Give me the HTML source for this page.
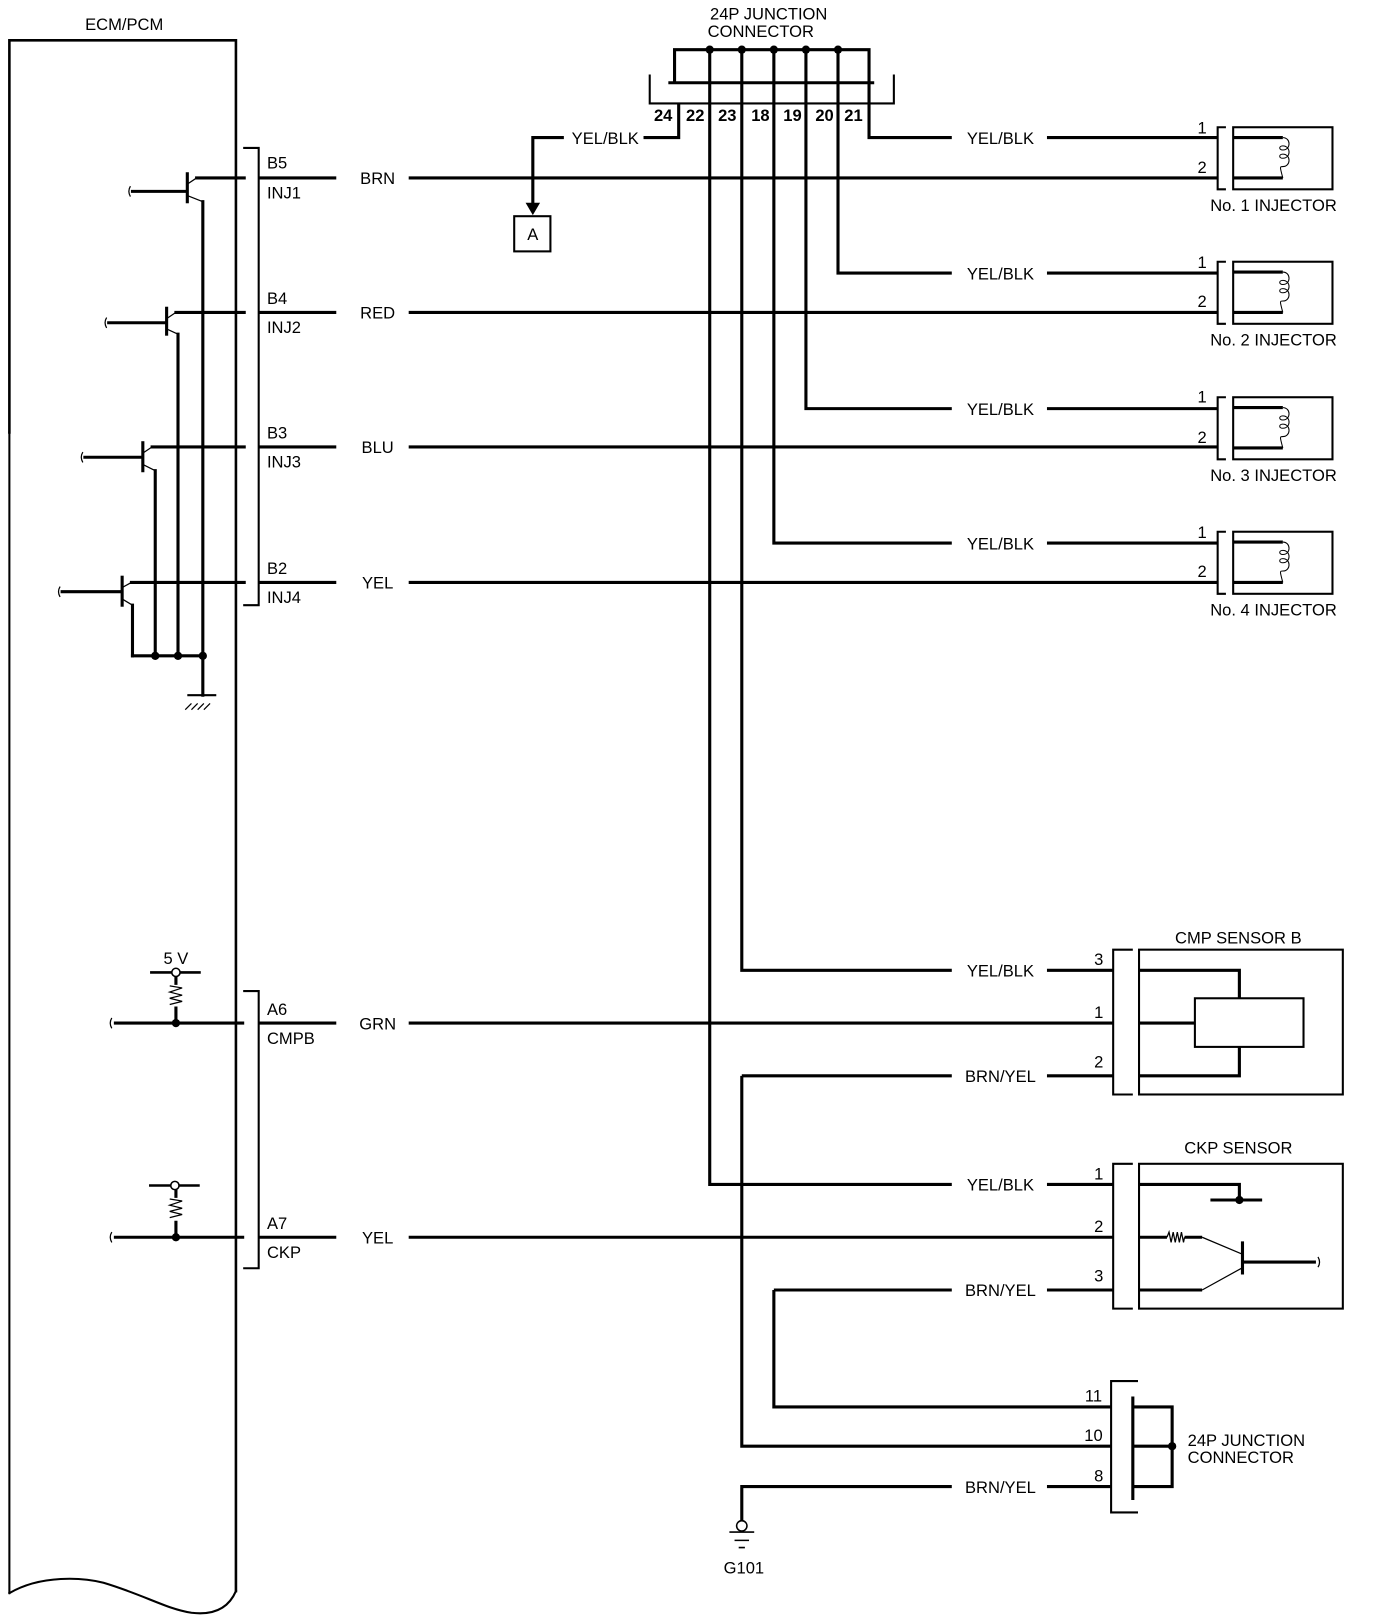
<!DOCTYPE html>
<html><head><meta charset="utf-8"><style>
html,body{margin:0;padding:0;background:#fff;}
svg{display:block;}
text{font-family:"Liberation Sans",Arial,sans-serif;font-size:16px;fill:#000;}
</style></head><body>
<svg width="1376" height="1620" viewBox="0 0 1330 1566" xmlns="http://www.w3.org/2000/svg">
<g fill="none" stroke="#000" stroke-width="3" stroke-linecap="square">
<path d="M9 418 V39 H228 V1538" stroke-width="2.5"/>
<path d="M9 418 V1540" stroke-width="2"/>
<path d="M9 1540 C40 1522 80 1525 100 1530 C140 1542 160 1555 185 1559 C210 1562 222 1552 228 1538" stroke-width="2"/>
<path d="M236 143 H250 V585 H236" stroke-width="2"/>
<path d="M236 958 H250 V1226 H236" stroke-width="2"/>
<path d="M190 172 H236"/><path d="M128 185 H180"/><path d="M181 168 V195" />
<path d="M196 195 V634"/>
<path d="M170 302 H236"/><path d="M105 312 H160"/><path d="M161 298 V323"/>
<path d="M172 323 V634"/>
<path d="M147 432 H236"/><path d="M82 442 H137"/><path d="M138 428 V455"/>
<path d="M150 455 V634"/>
<path d="M127 563 H236"/><path d="M60 572 H117"/><path d="M118 558 V585"/>
<path d="M128 585 V634"/>
<path d="M128 634 H196 V672"/>
<path d="M182 672 H208" stroke-width="2"/>
</g>
<g stroke="#000" stroke-width="1.2" fill="none">
<path d="M181 178 L190 172 M181 189 L196 195"/>
<path d="M161 308 L170 302 M161 318 L172 323"/>
<path d="M138 438 L147 432 M138 449 L150 455"/>
<path d="M118 568 L127 563 M118 579 L128 585"/>
<path d="M126 180 q-3 5 0 10 M103 307 q-3 5 0 10 M80 437 q-3 5 0 10 M58 567 q-3 5 0 10"/>
<path d="M185 680 L179 686 M191 680 L185 686 M197 680 L191 686 M203 680 L197 686"/>
</g>
<g fill="#000">
<circle cx="150" cy="634" r="4"/><circle cx="172" cy="634" r="4"/><circle cx="196" cy="634" r="4"/>
</g>
<g fill="none" stroke="#000" stroke-width="3">
<path d="M110 989 H236"/><path d="M110 1196 H236"/>
<path d="M145 940 H194" stroke-width="2.5"/><path d="M144 1146 H193" stroke-width="2.5"/>
<path d="M170 944 V952 M170 973 V989"/><path d="M170 1150 V1158 M170 1180 V1196"/>
</g>
<g fill="none" stroke="#000" stroke-width="1.2">
<path d="M164 953 L176 955 L164 959 L176 962 L164 965 L176 968 L164 971"/>
<path d="M164 1159 L176 1161 L164 1165 L176 1168 L164 1171 L176 1174 L164 1177"/>
<path d="M108 984 q-3 5 0 10 M108 1191 q-3 5 0 10"/>
</g>
<circle cx="170" cy="940" r="4" fill="#fff" stroke="#000" stroke-width="1.5"/>
<circle cx="169" cy="1146" r="4" fill="#fff" stroke="#000" stroke-width="1.5"/>
<circle cx="170" cy="989" r="4"/><circle cx="170" cy="1196" r="4"/>

<g fill="none" stroke="#000" stroke-width="3">
<path d="M250 172 H325 M395 172 H1177"/>
<path d="M250 302 H325 M395 302 H1177"/>
<path d="M250 432 H325 M395 432 H1177"/>
<path d="M250 563 H325 M395 563 H1177"/>
<path d="M250 989 H325 M395 989 H1076"/>
<path d="M250 1196 H325 M395 1196 H1076"/>
<path d="M652 80 V48 H840 V80"/>
<path d="M646 80 H845"/>
<path d="M686 48 V1145 H920 M1012 1145 H1076"/>
<path d="M717 48 V938 H920 M1012 938 H1076"/>
<path d="M748 48 V525 H920 M1012 525 H1177"/>
<path d="M779 48 V395 H920 M1012 395 H1177"/>
<path d="M810 48 V264 H920 M1012 264 H1177"/>
<path d="M840 80 V133 H920 M1012 133 H1177"/>
<path d="M656 100 V133 H622 M545 133 H515 V200"/>
<path d="M717 1040 H920 M1012 1040 H1076 M717 1040 V1398 H1074"/>
<path d="M748 1247 H920 M1012 1247 H1076 M748 1247 V1360 H1074"/>
<path d="M717 1470 V1437 H920 M1012 1437 H1074"/>
</g>
<path d="M628 72 V100 H864 V72" fill="none" stroke="#000" stroke-width="2"/>
<g fill="#000"><circle cx="686" cy="48" r="4"/><circle cx="717" cy="48" r="4"/><circle cx="748" cy="48" r="4"/><circle cx="779" cy="48" r="4"/><circle cx="810" cy="48" r="4"/></g>
<path d="M508 196 L522 196 L515 208 Z" fill="#000"/>
<rect x="497" y="209" width="35" height="34" fill="none" stroke="#000" stroke-width="2"/>
<circle cx="717" cy="1475" r="5" fill="#fff" stroke="#000" stroke-width="1.5"/>
<path d="M705 1481 H729 M710 1489 H724 M714 1496 H720" stroke="#000" stroke-width="1.5"/>

<g id="inj">
<path d="M1185 123 H1177 V183 H1185" fill="none" stroke="#000" stroke-width="2"/>
<rect x="1192" y="123" width="96" height="60" fill="none" stroke="#000" stroke-width="2"/>
<path d="M1192 133 H1240 M1192 172 H1240" stroke="#000" stroke-width="3"/>
<path d="M1240 133 c8 0 8 12 0 12 c-4 0 -4 -4 0 -4 c8 0 8 12 0 12 c-4 0 -4 -4 0 -4 c8 0 8 12 0 12 c-3 0 -3 0 0 11" fill="none" stroke="#000" stroke-width="1"/>
</g>
<use href="#inj" y="130"/><use href="#inj" y="261"/><use href="#inj" y="391"/>

<g fill="none" stroke="#000">
<path d="M1095 918 H1076 V1058 H1095" stroke-width="2"/>
<rect x="1101" y="918" width="197" height="140" stroke-width="2"/>
<path d="M1101 938 H1198 V965 M1198 1012 V1040 H1101 M1101 989 H1155" stroke-width="3"/>
<rect x="1155" y="965" width="105" height="47" stroke-width="2"/>
<path d="M1095 1125 H1076 V1265 H1095" stroke-width="2"/>
<rect x="1101" y="1125" width="197" height="140" stroke-width="2"/>
<path d="M1101 1145 H1198 V1160 M1170 1160 H1220 M1101 1196 H1128 M1145 1196 H1162 M1101 1247 H1162 M1200 1220 H1272 M1201 1200 V1232" stroke-width="3"/>
<path d="M1128 1196 l2 -5 l2 10 l2 -10 l2 10 l2 -10 l2 10 l2 -10 l2 10 l1 -5 M1162 1196 L1200 1212 M1200 1226 L1162 1247 M1274 1215 q3 5 0 10" stroke-width="1.2"/>
<path d="M1100 1335 H1074 V1462 H1100" stroke-width="2"/>
<path d="M1095 1350 V1450" stroke-width="3"/>
<path d="M1095 1360 H1133 V1437 H1095 M1095 1398 H1133" stroke-width="3"/>
</g>
<circle cx="1198" cy="1160" r="4"/><circle cx="1133" cy="1398" r="4"/>

<text x="120" y="29" text-anchor="middle">ECM/PCM</text>
<text x="743" y="19" text-anchor="middle">24P JUNCTION</text>
<text x="684" y="36">CONNECTOR</text>
<g text-anchor="middle">
<text x="641" y="117" style="font-weight:bold">24</text><text x="672" y="117" style="font-weight:bold">22</text><text x="703" y="117" style="font-weight:bold">23</text><text x="735" y="117" style="font-weight:bold">18</text><text x="766" y="117" style="font-weight:bold">19</text><text x="797" y="117" style="font-weight:bold">20</text><text x="825" y="117" style="font-weight:bold">21</text>
</g>
<text x="585" y="139" text-anchor="middle">YEL/BLK</text>
<text x="515" y="232" text-anchor="middle">A</text>
<text x="258" y="163">B5</text><text x="258" y="192">INJ1</text>
<text x="258" y="294">B4</text><text x="258" y="322">INJ2</text>
<text x="258" y="424">B3</text><text x="258" y="452">INJ3</text>
<text x="258" y="555">B2</text><text x="258" y="583">INJ4</text>
<text x="258" y="981">A6</text><text x="258" y="1009">CMPB</text>
<text x="258" y="1188">A7</text><text x="258" y="1216">CKP</text>
<g text-anchor="middle">
<text x="365" y="178">BRN</text><text x="365" y="308">RED</text><text x="365" y="438">BLU</text><text x="365" y="569">YEL</text>
<text x="365" y="995">GRN</text><text x="365" y="1202">YEL</text>
<text x="170" y="932">5 V</text>
<text x="967" y="139">YEL/BLK</text><text x="967" y="270">YEL/BLK</text><text x="967" y="401">YEL/BLK</text><text x="967" y="531">YEL/BLK</text>
<text x="967" y="944">YEL/BLK</text><text x="967" y="1046">BRN/YEL</text>
<text x="967" y="1151">YEL/BLK</text><text x="967" y="1253">BRN/YEL</text>
<text x="967" y="1443">BRN/YEL</text>
<text x="1231" y="204">No. 1 INJECTOR</text><text x="1231" y="334">No. 2 INJECTOR</text><text x="1231" y="465">No. 3 INJECTOR</text><text x="1231" y="595">No. 4 INJECTOR</text>
<text x="1197" y="912">CMP SENSOR B</text><text x="1197" y="1115">CKP SENSOR</text>
<text x="719" y="1521">G101</text>
</g>
<g text-anchor="middle">
<text x="1162" y="129">1</text><text x="1162" y="167">2</text>
<text x="1162" y="259">1</text><text x="1162" y="297">2</text>
<text x="1162" y="389">1</text><text x="1162" y="428">2</text>
<text x="1162" y="520">1</text><text x="1162" y="558">2</text>
<text x="1062" y="933">3</text><text x="1062" y="984">1</text><text x="1062" y="1032">2</text>
<text x="1062" y="1140">1</text><text x="1062" y="1191">2</text><text x="1062" y="1239">3</text>
<text x="1057" y="1355">11</text><text x="1057" y="1393">10</text><text x="1062" y="1432">8</text>
</g>
<text x="1148" y="1398">24P JUNCTION</text>
<text x="1148" y="1414">CONNECTOR</text>
</svg>
</body></html>
